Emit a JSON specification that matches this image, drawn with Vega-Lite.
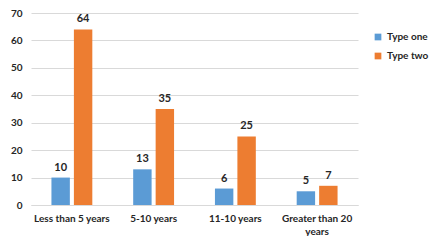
{
  "$schema": "https://vega.github.io/schema/vega-lite/v6.json",
  "width": 327,
  "height": 192,
  "padding": {"left": 10, "top": 8, "right": 0, "bottom": 0},
  "background": "white",
  "config": {
    "view": {"stroke": null},
    "font": "Lato"
  },
  "data": {
    "values": [
      {"group": "Less than 5 years", "type": "Type one", "value": 10},
      {"group": "Less than 5 years", "type": "Type two", "value": 64},
      {"group": "5-10 years", "type": "Type one", "value": 13},
      {"group": "5-10 years", "type": "Type two", "value": 35},
      {"group": "11-10 years", "type": "Type one", "value": 6},
      {"group": "11-10 years", "type": "Type two", "value": 25},
      {"group": "Greater than 20 years", "type": "Type one", "value": 5},
      {"group": "Greater than 20 years", "type": "Type two", "value": 7}
    ]
  },
  "encoding": {
    "x": {
      "field": "group",
      "type": "nominal",
      "sort": null,
      "scale": {"paddingInner": 0.5, "paddingOuter": 0.25},
      "axis": {
        "title": null,
        "labelAngle": 0,
        "labelFont": "Lato",
        "labelFontWeight": "bold",
        "labelFontSize": 10,
        "labelColor": "#262626",
        "labelPadding": 8,
        "labelLineHeight": 13,
        "ticks": false,
        "domainColor": "#d9d9d9",
        "labelLimit": 200,
        "labelExpr": "datum.label == 'Greater than 20 years' ? ['Greater than 20', 'years'] : datum.label"
      }
    },
    "xOffset": {
      "field": "type",
      "type": "nominal",
      "scale": {"paddingInner": 0.18, "paddingOuter": 0}
    },
    "y": {
      "field": "value",
      "type": "quantitative",
      "scale": {"domain": [0, 70]},
      "axis": {
        "title": null,
        "values": [0, 10, 20, 30, 40, 50, 60, 70],
        "domain": false,
        "ticks": false,
        "gridColor": "#d9d9d9",
        "labelFont": "Lato",
        "labelFontWeight": "bold",
        "labelFontSize": 10,
        "labelColor": "#262626",
        "labelPadding": 9
      }
    }
  },
  "layer": [
    {
      "mark": {"type": "bar"},
      "encoding": {
        "color": {
          "field": "type",
          "type": "nominal",
          "scale": {"domain": ["Type one", "Type two"], "range": ["#5B9BD5", "#ED7D31"]},
          "legend": {
            "title": null,
            "orient": "none",
            "legendX": 342,
            "legendY": 19,
            "symbolType": "square",
            "symbolSize": 45,
            "symbolStrokeWidth": 0,
            "rowPadding": 9,
            "labelFont": "Lato",
            "labelFontWeight": "bold",
            "labelFontSize": 10,
            "labelColor": "#262626"
          }
        }
      }
    },
    {
      "mark": {"type": "text", "dy": -10, "font": "Lato", "fontWeight": "bold", "fontSize": 11, "color": "#262626"},
      "encoding": {
        "text": {"field": "value", "type": "quantitative"}
      }
    }
  ]
}
